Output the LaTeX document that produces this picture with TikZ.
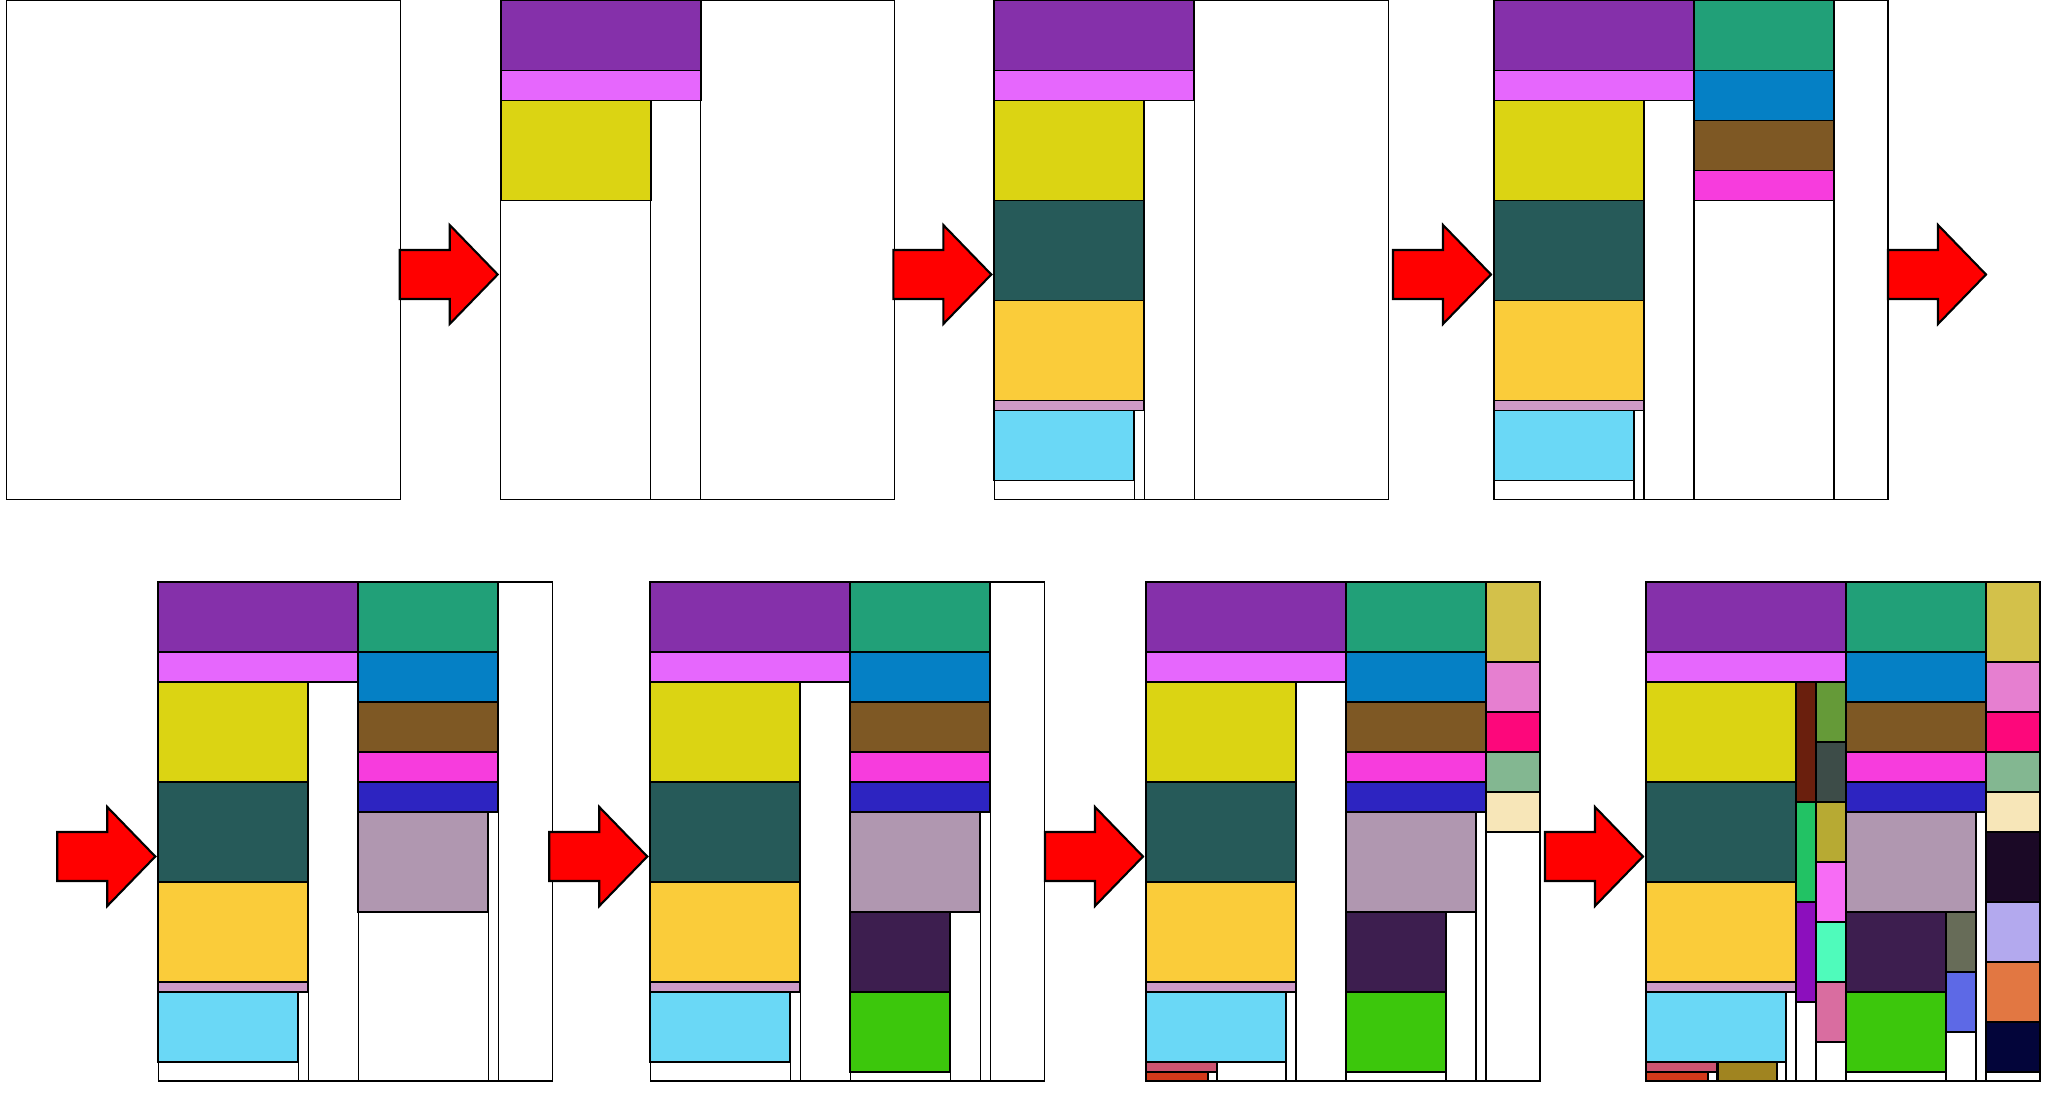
\documentclass[tikz,border=0pt]{standalone}
\usepackage{tikz}

\definecolor{cPurple}{HTML}{8530AA}
\definecolor{cPink}{HTML}{E667FD}
\definecolor{cYellow}{HTML}{DBD413}
\definecolor{cDarkTeal}{HTML}{265A59}
\definecolor{cGold}{HTML}{FACC3A}
\definecolor{cLilac}{HTML}{CF9AC7}
\definecolor{cCyan}{HTML}{6AD8F6}
\definecolor{cSea}{HTML}{21A078}
\definecolor{cBlue}{HTML}{0580C5}
\definecolor{cBrown}{HTML}{7E5824}
\definecolor{cMagenta}{HTML}{F73CDD}
\definecolor{cIndigo}{HTML}{2D24C1}
\definecolor{cMauve}{HTML}{B097B0}
\definecolor{cPlum}{HTML}{3D1E4F}
\definecolor{cGreen}{HTML}{3CC70C}
\definecolor{cMustard}{HTML}{D3C14A}
\definecolor{cOrchid}{HTML}{E67FD0}
\definecolor{cHotPink}{HTML}{FD077B}
\definecolor{cSage}{HTML}{83B791}
\definecolor{cBeige}{HTML}{F7E6B8}
\definecolor{cRose}{HTML}{CC5470}
\definecolor{cRed}{HTML}{D3391B}
\definecolor{cOlive}{HTML}{A08420}
\definecolor{cRust}{HTML}{6A1F0D}
\definecolor{cLeaf}{HTML}{659A38}
\definecolor{cSlate}{HTML}{3D4C48}
\definecolor{cJade}{HTML}{22C264}
\definecolor{cKhaki}{HTML}{B7AA33}
\definecolor{cViolet}{HTML}{F76CF5}
\definecolor{cGrape}{HTML}{8C0FBD}
\definecolor{cAqua}{HTML}{4FFBBB}
\definecolor{cBlush}{HTML}{D96DA0}
\definecolor{cMoss}{HTML}{676C58}
\definecolor{cPeri}{HTML}{5D69E6}
\definecolor{cNight}{HTML}{1B0926}
\definecolor{cLavender}{HTML}{B3A9EE}
\definecolor{cOrange}{HTML}{E27742}
\definecolor{cNavy}{HTML}{03053A}

\tikzset{
	binline/.style={draw=black, line width=0.35pt},
	itembox/.style={draw=black, line width=0.5pt},
	arrowshape/.style={draw=black, fill=red, line width=0.6pt, line join=miter}
}

\def\bx(#1,#2)(#3,#4)#5{\draw[itembox,fill=#5] (#1,#2) rectangle (#3,#4);}
\def\fr(#1,#2)(#3,#4){\draw[binline] (#1,#2) rectangle (#3,#4);}
\def\arr(#1,#2){\draw[arrowshape,shift={(#1,#2)}] (-98,-24.5) -- (-48,-24.5) -- (-48,-49.5) -- (0,0) -- (-48,49.5) -- (-48,24.5) -- (-98,24.5) -- cycle;}

% packing stages, each one on top of the one before
\def\layA{%
	\fr(0,0)(200,499)
	\bx(0,0)(200,70){cPurple}
	\bx(0,70)(200,100){cPink}
	\bx(0,100)(150,200){cYellow}
	\fr(0,200)(150,499)
	\fr(150,100)(200,499)
}
\def\layB{\layA
	\bx(0,200)(150,300){cDarkTeal}
	\bx(0,300)(150,400){cGold}
	\bx(0,400)(150,410){cLilac}
	\bx(0,410)(140,480){cCyan}
	\fr(140,410)(150,499)
	\fr(0,480)(140,499)
}
\def\layC{\layB
	\fr(200,0)(340,499)
	\bx(200,0)(340,70){cSea}
	\bx(200,70)(340,120){cBlue}
	\bx(200,120)(340,170){cBrown}
	\bx(200,170)(340,200){cMagenta}
	\fr(200,200)(340,499)
}
\def\layD{\layC
	\bx(200,200)(340,230){cIndigo}
	\bx(200,230)(330,330){cMauve}
	\fr(200,330)(330,499)
	\fr(330,230)(340,499)
}
\def\layE{\layD
	\bx(200,330)(300,410){cPlum}
	\bx(200,410)(300,490){cGreen}
	\fr(300,330)(330,499)
	\fr(200,490)(300,499)
}
\def\layF{\layE
	\bx(340,0)(394,80){cMustard}
	\bx(340,80)(394,130){cOrchid}
	\bx(340,130)(394,170){cHotPink}
	\bx(340,170)(394,210){cSage}
	\bx(340,210)(394,250){cBeige}
	\fr(340,250)(394,499)
	\bx(0,480)(71,490){cRose}
	\bx(0,490)(62,499){cRed}
	\fr(62,490)(71,499)
	\fr(71,480)(140,499)
}
\def\layG{\layF
	\bx(72,480)(131,499){cOlive}
	\fr(131,480)(140,499)
	\bx(150,100)(170,220){cRust}
	\bx(150,220)(170,320){cJade}
	\bx(150,320)(170,420){cGrape}
	\fr(150,420)(170,499)
	\bx(170,100)(200,160){cLeaf}
	\bx(170,160)(200,220){cSlate}
	\bx(170,220)(200,280){cKhaki}
	\bx(170,280)(200,340){cViolet}
	\bx(170,340)(200,400){cAqua}
	\bx(170,400)(200,460){cBlush}
	\fr(170,460)(200,499)
	\bx(300,330)(330,390){cMoss}
	\bx(300,390)(330,450){cPeri}
	\fr(300,450)(330,499)
	\bx(340,250)(394,320){cNight}
	\bx(340,320)(394,380){cLavender}
	\bx(340,380)(394,440){cOrange}
	\bx(340,440)(394,490){cNavy}
	\fr(340,490)(394,499)
}

\begin{document}
\begin{tikzpicture}[x=0.01cm, y=-0.01cm]
		\useasboundingbox (0,0) rectangle (2050,1100);
		%%%%% TOP ROW %%%%%
		\begin{scope}[shift={(6.5,0.5)}]
			\fr(0,0)(394,499)
		\end{scope}
		\arr(497.7,274.5)
		
		\begin{scope}[shift={(500.7,0.5)}]
			\layA
			\fr(0,0)(394,499)
		\end{scope}
		\arr(991.3,274.5)
		
		\begin{scope}[shift={(994.3,0.5)}]
			\layB
			\fr(0,0)(394,499)
		\end{scope}
		\arr(1491,274.5)
		
		\begin{scope}[shift={(1494,0.5)}]
			\layC
			\fr(0,0)(394,499)
		\end{scope}
		\arr(1986,274.5)
		
		%%%%% BOTTOM ROW %%%%%
		\arr(155.3,856.5)
		\begin{scope}[shift={(158.3,582)}]
			\layD
			\fr(0,0)(394,499)
		\end{scope}
		
		\arr(647.3,856.5)
		\begin{scope}[shift={(650.3,582)}]
			\layE
			\fr(0,0)(394,499)
		\end{scope}
		
		\arr(1143,856.5)
		\begin{scope}[shift={(1146,582)}]
			\layF
			\fr(0,0)(394,499)
		\end{scope}
		
		\arr(1643,856.5)
		\begin{scope}[shift={(1646,582)}]
			\layG
			\fr(0,0)(394,499)
		\end{scope}
		%%%%% END %%%%%
\end{tikzpicture}
\end{document}
